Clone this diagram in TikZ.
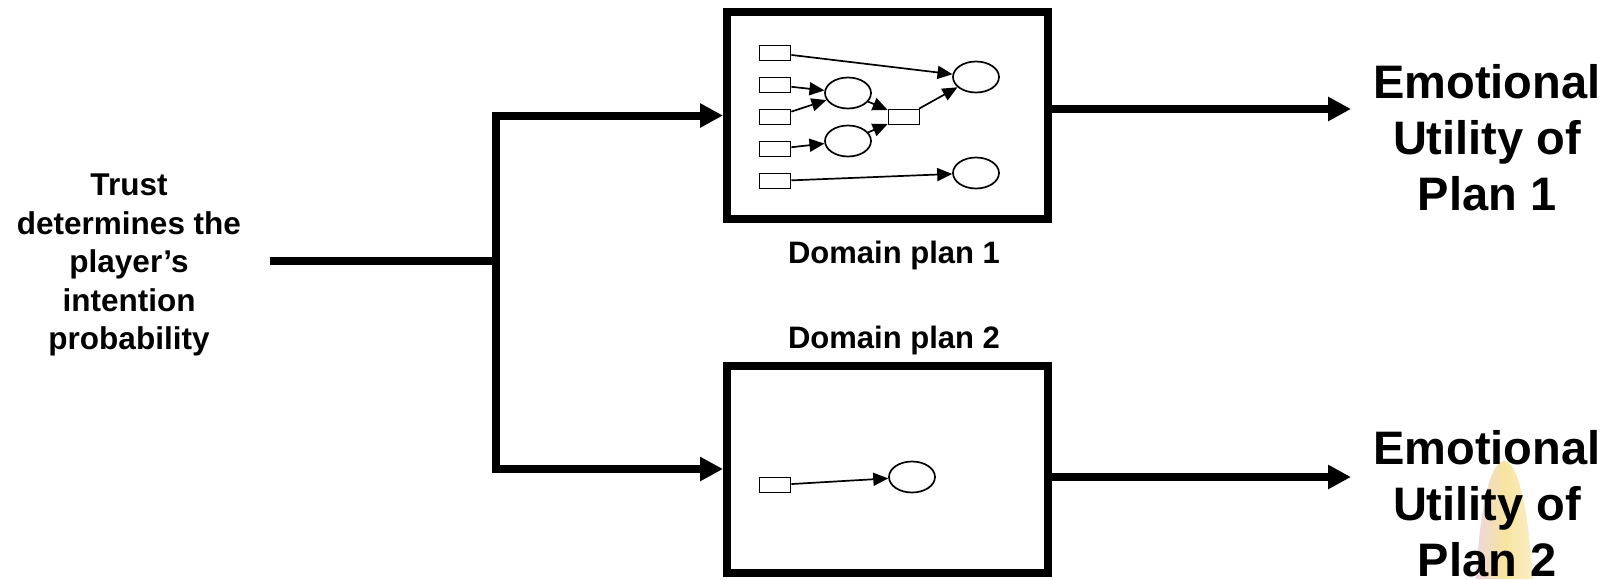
\documentclass[tikz,border=0pt]{standalone}
\usepackage{fontspec}
\setmainfont{Liberation Sans}
\usetikzlibrary{arrows.meta,shapes.geometric}
\begin{document}
\begin{tikzpicture}[x=1pt,y=-1pt,
  planbox/.style={draw,line width=8pt,minimum width=321pt,minimum height=207pt,inner sep=0pt},
  smallrect/.style={draw,line width=1.7pt,minimum width=31pt,minimum height=15pt,inner sep=0pt},
  smallell/.style={draw,ellipse,line width=1.7pt,minimum width=46pt,minimum height=31pt,inner sep=0pt},
  thinarrow/.style={line width=1.7pt,-{Triangle[length=15pt,width=13pt]}},
  bigline/.style={line width=8pt,line join=miter},
  bigarrow/.style={bigline,-{Triangle[length=23pt,width=23pt]}},
  midtext/.style={font=\fontsize{31.5}{38.5}\selectfont\bfseries,align=center,inner sep=0pt},
  labtext/.style={font=\fontsize{31}{38}\selectfont\bfseries,inner sep=0pt},
  bigtext/.style={font=\fontsize{47}{56}\selectfont\bfseries,align=center,inner sep=0pt}
]
\useasboundingbox (0,0) rectangle (1614,579);

% faint yellow background flame
\shade[left color={rgb,255:red,236;green,214;blue,222},right color={rgb,255:red,250;green,238;blue,196},middle color={rgb,255:red,248;green,228;blue,160}]
  (1476,579) .. controls (1479,520) and (1488,462) .. (1504,461)
  .. controls (1520,462) and (1529,520) .. (1533,579) -- cycle;

% left text
\node[midtext] (trust) at (129,265) {Trust\\determines the\\player’s\\intention\\probability};

% plan boxes
\node[planbox] (box1) at (887.5,115.5) {};
\node[planbox] (box2) at (887.5,469) {};
\node[labtext,anchor=base] (lab1) at (894,263) {Domain plan 1};
\node[labtext,anchor=base] (lab2) at (894,348) {Domain plan 2};

% outputs
\node[bigtext] (out1txt) at (1487,138) {Emotional\\Utility of\\Plan 1};
\node[bigtext] (out2txt) at (1487,504) {Emotional\\Utility of\\Plan 2};

% connectors
\coordinate (start) at (270,261);
\coordinate (junc) at (496,261);
\coordinate (out1) at (1351,109);
\coordinate (out2) at (1351,477);
\draw[bigline] (start) -- (junc);
\draw[bigarrow] (junc) |- (box1.west);
\draw[bigarrow] (junc) |- (box2.west);
\draw[bigarrow] (box1.east |- out1) -- (out1);
\draw[bigarrow] (box2.east |- out2) -- (out2);

% inner network of plan 1
\node[smallrect] (r1) at (775,53) {};
\node[smallrect] (r2) at (775,85) {};
\node[smallrect] (r3) at (775,117) {};
\node[smallrect] (r4) at (775,149) {};
\node[smallrect] (r5) at (775,181) {};
\node[smallell] (e1) at (848,93) {};
\node[smallell] (e2) at (848,141) {};
\node[smallrect] (m) at (904,117) {};
\node[smallell] (e3) at (976,77) {};
\node[smallell] (e4) at (976,173) {};
\draw[thinarrow] (r1) -- (e3);
\draw[thinarrow] (r2) -- (e1);
\draw[thinarrow] (r3) -- (e1);
\draw[thinarrow] (r4) -- (e2);
\draw[thinarrow] (r5) -- (e4);
\draw[thinarrow] (e1) -- (m);
\draw[thinarrow] (e2) -- (m);
\draw[thinarrow] (m) -- (e3);

% inner network of plan 2
\node[smallrect] (q1) at (775,485) {};
\node[smallell] (f1) at (912,477) {};
\draw[thinarrow] (q1) -- (f1);
\end{tikzpicture}
\end{document}
